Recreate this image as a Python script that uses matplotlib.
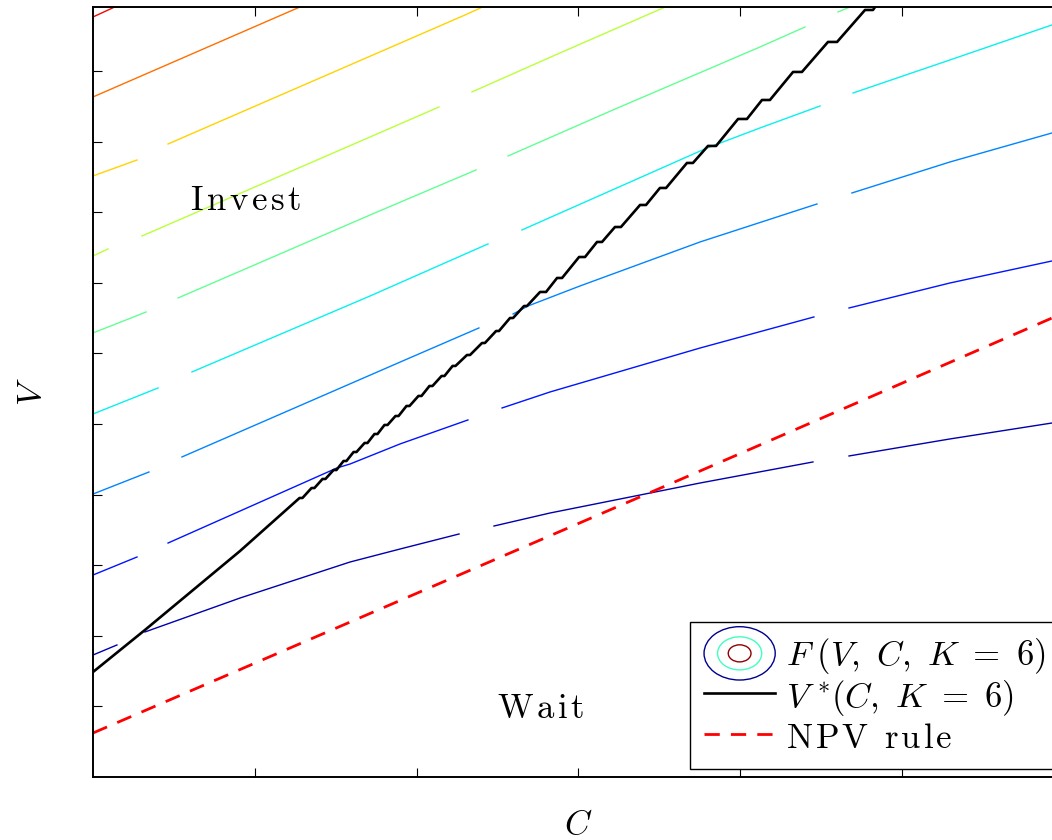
import matplotlib
matplotlib.use("Agg")
import matplotlib.pyplot as plt
import numpy as np
from matplotlib.colors import Normalize
from matplotlib.legend_handler import HandlerBase
from matplotlib.mathtext import MathTextParser
from matplotlib.patches import Ellipse

nan = np.nan

# contour lines of F(V, C, K=6), nan = gap left by the contour labels
levels = [1, 2, 3, 4, 5, 6, 7, 8, 9]

c_lvl1 = [0, 0.148, nan, 0.321, 0.909, 1.589, 1.898, 2.263, nan, 2.479, 2.825, 3.011, 3.753, 4.451, nan, 4.674, 5.298, 5.929]
v_lvl1 = [1.728, 1.870, nan, 2.054, 2.535, 3.045, 3.229, 3.442, nan, 3.555, 3.739, 3.824, 4.164, 4.462, nan, 4.547, 4.788, 5.014]

c_lvl2 = [0, 0.272, nan, 0.464, 1.508, 1.589, 1.898, 2.318, nan, 2.529, 2.825, 3.753, 4.457, nan, 4.674, 5.298, 5.929]
v_lvl2 = [2.861, 3.116, nan, 3.314, 4.377, 4.433, 4.717, 5.057, nan, 5.227, 5.453, 6.076, 6.516, nan, 6.643, 6.997, 7.309]

c_lvl3 = [0, 0.346, nan, 0.550, 1.929, 2.386, nan, 2.597, 2.689, 3.011, 3.753, 4.476, nan, 4.692, 5.298, 5.929]
v_lvl3 = [4.008, 4.320, nan, 4.533, 5.907, 6.360, nan, 6.558, 6.671, 6.955, 7.578, 8.116, nan, 8.272, 8.711, 9.122]

c_lvl4 = [0, 0.402, nan, 0.612, 1.713, 2.442, nan, 2.652, 3.796, 4.124, 4.495, nan, 4.699, 5.298, 5.929]
v_lvl4 = [5.142, 5.510, nan, 5.737, 6.813, 7.550, nan, 7.748, 8.909, 9.193, 9.504, nan, 9.688, 10.156, 10.652]

c_lvl5 = [0, 0.328, nan, 0.526, 1.713, 2.368, nan, 2.566, 3.215, 4.124, 4.402, nan, 4.606, 4.711]
v_lvl5 = [6.289, 6.586, nan, 6.785, 7.960, 8.598, nan, 8.796, 9.448, 10.340, 10.623, nan, 10.836, 10.935]

c_lvl6 = [0, 0.093, nan, 0.303, 1.713, 2.139, nan, 2.343, 2.887, 3.567]
v_lvl6 = [7.380, 7.479, nan, 7.663, 9.065, 9.490, nan, 9.703, 10.255, 10.935]

c_lvl7 = [0, 0.272, nan, 0.464, 2.300, 2.423]
v_lvl7 = [8.513, 8.739, nan, 8.966, 10.793, 10.921]

c_lvl8 = [0, 1.280]
v_lvl8 = [9.632, 10.907]

c_lvl9 = [0, 0.148]
v_lvl9 = [10.765, 10.921]

contour_c = [c_lvl1, c_lvl2, c_lvl3, c_lvl4, c_lvl5, c_lvl6, c_lvl7, c_lvl8, c_lvl9]
contour_v = [v_lvl1, v_lvl2, v_lvl3, v_lvl4, v_lvl5, v_lvl6, v_lvl7, v_lvl8, v_lvl9]

# investment threshold V*(C, K=6), stepped because of the grid
c_star = [0, 0.321, 0.909,
          1.277, 1.295, 1.351, 1.369, 1.419, 1.437, 1.487, 1.505,
          1.549, 1.567, 1.611, 1.629, 1.679, 1.697, 1.740, 1.759,
          1.802, 1.821, 1.870, 1.889, 1.938, 1.957, 2.012, 2.031,
          2.080, 2.099, 2.155, 2.173, 2.223, 2.241, 2.312, 2.331,
          2.405, 2.423, 2.492, 2.510, 2.578, 2.597, 2.665, 2.683,
          2.764, 2.801, 2.869, 2.900, 3.005, 3.042, 3.116, 3.147,
          3.227, 3.264, 3.382, 3.419, 3.505, 3.543, 3.672, 3.709,
          3.802, 3.852, 3.988, 4.043, 4.136, 4.185, 4.328, 4.383,
          4.544, 4.600, 4.773, 4.822, 4.853]
v_star = [1.487, 2.082, 3.201,
          3.952, 3.952, 4.093, 4.093, 4.221, 4.221, 4.348, 4.348,
          4.476, 4.476, 4.603, 4.603, 4.731, 4.731, 4.858, 4.858,
          4.986, 4.986, 5.113, 5.113, 5.255, 5.255, 5.397, 5.397,
          5.538, 5.538, 5.680, 5.680, 5.822, 5.822, 5.977, 5.977,
          6.147, 6.147, 6.317, 6.317, 6.501, 6.501, 6.671, 6.671,
          6.870, 6.870, 7.068, 7.068, 7.365, 7.365, 7.578, 7.578,
          7.790, 7.790, 8.102, 8.102, 8.343, 8.343, 8.697, 8.697,
          8.938, 8.938, 9.320, 9.320, 9.589, 9.589, 9.986, 9.986,
          10.411, 10.411, 10.864, 10.864, 10.963]

# NPV rule
c_npv = [0, 3.753, 5.929]
v_npv = [0.623, 4.334, 6.501]

plt.rcParams["font.family"] = "cmr10"
plt.rcParams["mathtext.fontset"] = "cm"
plt.rcParams["axes.unicode_minus"] = False


def spaced(word, gap):
    # letter-spaced roman text, like the LaTeX output of the original
    parts = ["\\ " if ch == " " else ch for ch in word]
    s = "$\\mathrm{" + ("\\hspace{%g}" % gap).join(parts) + "}$"
    try:
        MathTextParser("path").parse(s)
        return s
    except Exception:
        return word


class ContourIcon:
    pass


class HandlerContour(HandlerBase):
    def create_artists(self, legend, orig_handle, xdescent, ydescent,
                       width, height, fontsize, trans):
        cx = width / 2 - xdescent
        cy = height / 2 - ydescent
        out = []
        for scale, col in [(1.0, "#00008f"), (0.62, "#40ffbf"), (0.32, "#8f0000")]:
            e = Ellipse((cx, cy), width * scale, height * 1.6 * scale,
                        facecolor="none", edgecolor=col, lw=1.0, transform=trans)
            out.append(e)
        return out


fig = plt.figure(figsize=(10.52, 8.4), dpi=100)
ax = fig.add_axes([93 / 1052, 63 / 840, 970.5 / 1052, 770 / 840])

cmap = plt.cm.jet
norm = Normalize(vmin=0.63, vmax=9.93)
for lev, c, v in zip(levels, contour_c, contour_v):
    ax.plot(c, v, color=cmap(norm(lev)), lw=1.0)

star_line, = ax.plot(c_star, v_star, color="black", lw=1.9)
npv_line, = ax.plot(c_npv, v_npv, color="red", lw=2.0, dashes=(5.5, 4))

ax.text(0.94, 8.16, spaced("Invest", 0.12), fontsize=25, ha="center", va="center")
ax.text(2.77, 0.96, spaced("Wait", 0.12), fontsize=25, ha="center", va="center")

ax.set_xlim(0, 6.0)
ax.set_ylim(0, 10.906)
ax.set_xticks([1, 2, 3, 4, 5])
ax.set_yticks(range(1, 11))
ax.set_xticklabels([])
ax.set_yticklabels([])
ax.tick_params(direction="in", length=6.5, width=0.8, top=True, right=True)
for sp in ax.spines.values():
    sp.set_linewidth(1.4)

ax.set_xlabel("$C$", fontsize=25)
ax.set_ylabel("$V$", fontsize=25)
ax.xaxis.set_label_coords(0.5, -0.062)
ax.yaxis.set_label_coords(-0.063, 0.5)
ax.xaxis.label.set_va("center")
ax.yaxis.label.set_va("center")

labels = ["$F\\;(V,\\ C,\\ K\\ =\\ 6)$",
          "$V^{\\,*}\\!(C,\\ K\\ =\\ 6)$",
          spaced("NPV rule", 0.1)]
leg = ax.legend([ContourIcon(), star_line, npv_line], labels,
                handler_map={ContourIcon: HandlerContour()},
                loc="lower right", bbox_to_anchor=(0.9954, 0.0104),
                fontsize=25, frameon=True, fancybox=False, framealpha=1,
                edgecolor="black", handlelength=2.05, handleheight=1.1,
                handletextpad=0.3, labelspacing=0.05, borderpad=0.4,
                borderaxespad=0)
leg.get_frame().set_linewidth(1.0)

fig.savefig("out.png", dpi=100)
